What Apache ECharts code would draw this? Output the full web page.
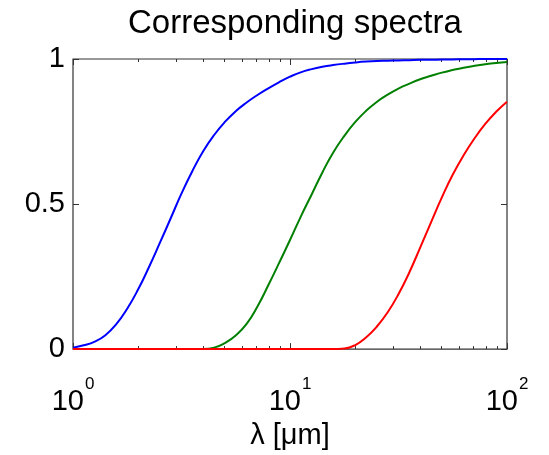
<!DOCTYPE html>
<html>
<head>
<meta charset="utf-8">
<script src="https://cdn.jsdelivr.net/npm/echarts@6/dist/echarts.min.js"></script>
<style>
  html, body { margin: 0; padding: 0; background: #fff; }
  #chart { width: 549px; height: 455px; }
</style>
</head>
<body>
<div id="chart"></div>
<script>
// Wavelength samples in micrometres (20 per decade)
const wavelengths = [1, 1.12, 1.26, 1.41, 1.58, 1.78, 2, 2.24, 2.51, 2.82,
  3.16, 3.55, 3.98, 4.47, 5.01, 5.62, 6.31, 7.08, 7.94, 8.91,
  10, 11.2, 12.6, 14.1, 15.8, 17.8, 20, 22.4, 25.1, 28.2,
  31.6, 35.5, 39.8, 44.7, 50.1, 56.2, 63.1, 70.8, 79.4, 89.1, 100];

// Normalised spectra for the three sources
const blueSpectrum = [0.005, 0.013, 0.026, 0.048, 0.085, 0.14, 0.207, 0.283, 0.365, 0.451,
  0.536, 0.614, 0.682, 0.738, 0.783, 0.82, 0.85, 0.876, 0.899, 0.92,
  0.939, 0.954, 0.965, 0.973, 0.979, 0.984, 0.988, 0.991, 0.993, 0.994,
  0.995, 0.996, 0.997, 0.9975, 0.998, 0.9985, 0.999, 0.9995, 1, 1, 1];
const greenSpectrum = [0, 0, 0, 0, 0, 0, 0, 0, 0, 0,
  0, 0, 0, 0.005, 0.021, 0.047, 0.087, 0.147, 0.22, 0.297,
  0.376, 0.456, 0.534, 0.609, 0.677, 0.735, 0.783, 0.821, 0.852, 0.877,
  0.898, 0.915, 0.93, 0.942, 0.953, 0.962, 0.97, 0.9765, 0.982, 0.9865, 0.99];
const redSpectrum = [0, 0, 0, 0, 0, 0, 0, 0, 0, 0,
  0, 0, 0, 0, 0, 0, 0, 0, 0, 0,
  0, 0, 0, 0, 0, 0.002, 0.014, 0.04, 0.077, 0.127,
  0.189, 0.265, 0.35, 0.438, 0.523, 0.601, 0.668, 0.726, 0.776, 0.818, 0.853];

// Axis ticks
const majorTicks = [1, 10, 100];
const minorTicks = [2, 3, 4, 5, 6, 7, 8, 9, 20, 30, 40, 50, 60, 70, 80, 90];
const yTicks = [0, 0.5, 1];

const FONT = "'Liberation Sans', Arial, Helvetica, sans-serif";

const chart = echarts.init(document.getElementById('chart'), null, { renderer: 'canvas' });

function logAxis(position, ticks, len, withLabels) {
  return {
    type: 'log',
    logBase: 10,
    position: position,
    min: 1,
    max: 100,
    axisLine: { show: false },
    splitLine: { show: false },
    minorTick: { show: false },
    axisTick: {
      show: true,
      inside: true,
      length: len,
      customValues: ticks,
      lineStyle: { color: '#333', width: 1 }
    },
    axisLabel: withLabels ? {
      show: true,
      customValues: ticks,
      margin: 27,
      color: '#000',
      fontFamily: FONT,
      formatter: function (v) {
        return '{b|10}{s|' + Math.round(Math.log10(v)) + '}';
      },
      rich: {
        b: { fontSize: 29, fontFamily: FONT, color: '#000', lineHeight: 40, verticalAlign: 'bottom' },
        s: { fontSize: 17, fontFamily: FONT, color: '#000', lineHeight: 5, verticalAlign: 'top', padding: [0, 0, 0, 1] }
      }
    } : { show: false }
  };
}

function linAxis(position, withLabels) {
  return {
    type: 'value',
    position: position,
    min: 0,
    max: 1,
    interval: 0.5,
    axisLine: { show: false },
    splitLine: { show: false },
    axisTick: {
      show: true,
      inside: true,
      length: 6,
      lineStyle: { color: '#333', width: 1 }
    },
    axisLabel: withLabels ? {
      show: true,
      margin: 8,
      fontSize: 29,
      fontFamily: FONT,
      color: '#000',
      customValues: yTicks,
      formatter: function (v) { return String(v); }
    } : { show: false }
  };
}

const makeSeries = (name, values, color) => ({
  name: name,
  type: 'line',
  xAxisIndex: 0,
  yAxisIndex: 0,
  showSymbol: false,
  smooth: 0.5,
  data: wavelengths.map((w, i) => [w, values[i]]),
  lineStyle: { color: color, width: 2 },
  itemStyle: { color: color }
});

chart.setOption({
  animation: false,
  backgroundColor: '#fff',
  title: {
    text: 'Corresponding spectra',
    left: 123,
    top: 2,
    textStyle: { fontSize: 33, fontWeight: 'normal', color: '#000', fontFamily: FONT }
  },
  grid: {
    left: 73,
    right: 42,
    top: 59,
    bottom: 84,
    show: true,
    borderColor: '#333',
    borderWidth: 1.2,
    backgroundColor: '#fff'
  },
  xAxis: [
    Object.assign(logAxis('bottom', majorTicks, 6, true), {
      name: 'λ [μm]',
      nameLocation: 'middle',
      nameGap: 70,
      nameTextStyle: { fontSize: 29, fontFamily: FONT, color: '#000' }
    }),
    logAxis('bottom', minorTicks, 3, false),
    logAxis('top', majorTicks, 6, false),
    logAxis('top', minorTicks, 3, false)
  ],
  yAxis: [
    linAxis('left', true),
    linAxis('right', false)
  ],
  series: [
    makeSeries('blue', blueSpectrum, '#0000ff'),
    makeSeries('green', greenSpectrum, '#008000'),
    makeSeries('red', redSpectrum, '#ff0000')
  ]
});
</script>
</body>
</html>
